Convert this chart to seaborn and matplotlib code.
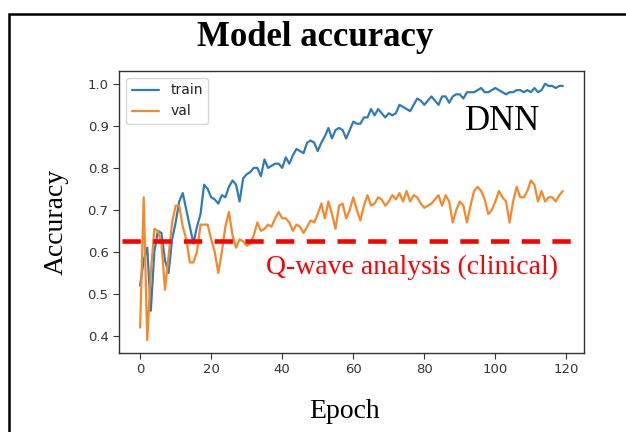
import numpy as np
import pandas as pd
import matplotlib
matplotlib.use("Agg")
import matplotlib.pyplot as plt
import seaborn as sns
from matplotlib.patches import Rectangle

epochs = list(range(120))
train_acc = [0.52, 0.58, 0.61, 0.46, 0.60, 0.65, 0.645, 0.58, 0.55, 0.63,
             0.67, 0.72, 0.74, 0.70, 0.66, 0.62, 0.66, 0.69, 0.76, 0.75,
             0.73, 0.725, 0.715, 0.735, 0.73, 0.755, 0.77, 0.76, 0.72, 0.775,
             0.785, 0.79, 0.80, 0.80, 0.78, 0.82, 0.80, 0.805, 0.81, 0.81,
             0.80, 0.825, 0.81, 0.83, 0.845, 0.84, 0.835, 0.86, 0.865, 0.86,
             0.84, 0.86, 0.875, 0.895, 0.87, 0.89, 0.895, 0.89, 0.87, 0.89,
             0.91, 0.905, 0.905, 0.92, 0.92, 0.94, 0.925, 0.94, 0.93, 0.92,
             0.93, 0.925, 0.93, 0.95, 0.945, 0.94, 0.935, 0.95, 0.965, 0.96,
             0.95, 0.96, 0.97, 0.96, 0.95, 0.97, 0.97, 0.955, 0.97, 0.975,
             0.975, 0.965, 0.98, 0.98, 0.98, 0.985, 0.99, 0.98, 0.98, 0.985,
             0.99, 0.985, 0.98, 0.975, 0.98, 0.98, 0.985, 0.985, 0.98, 0.985,
             0.98, 0.99, 0.98, 0.985, 1.0, 0.995, 0.995, 0.99, 0.995, 0.995]
val_acc = [0.42, 0.73, 0.39, 0.55, 0.655, 0.65, 0.62, 0.51, 0.59, 0.67,
           0.71, 0.71, 0.66, 0.63, 0.575, 0.575, 0.60, 0.665, 0.665, 0.665,
           0.63, 0.60, 0.55, 0.60, 0.66, 0.695, 0.64, 0.61, 0.63, 0.625,
           0.615, 0.62, 0.64, 0.67, 0.65, 0.655, 0.665, 0.66, 0.68, 0.695,
           0.68, 0.68, 0.67, 0.65, 0.665, 0.66, 0.645, 0.66, 0.675, 0.67,
           0.69, 0.715, 0.68, 0.72, 0.69, 0.655, 0.71, 0.715, 0.68, 0.70,
           0.73, 0.70, 0.675, 0.71, 0.735, 0.71, 0.715, 0.73, 0.725, 0.71,
           0.72, 0.735, 0.725, 0.74, 0.72, 0.745, 0.72, 0.735, 0.73, 0.715,
           0.705, 0.71, 0.715, 0.725, 0.735, 0.71, 0.735, 0.72, 0.67, 0.70,
           0.72, 0.71, 0.67, 0.71, 0.745, 0.755, 0.745, 0.725, 0.69, 0.70,
           0.72, 0.745, 0.73, 0.72, 0.67, 0.72, 0.755, 0.73, 0.73, 0.745,
           0.77, 0.76, 0.72, 0.745, 0.72, 0.73, 0.73, 0.72, 0.735, 0.745]
series_names = ["train", "val"]
clinical_level = 0.625
yticks = [0.4, 0.5, 0.6, 0.7, 0.8, 0.9, 1.0]
xticks = [0, 20, 40, 60, 80, 100, 120]

df = pd.DataFrame({
    "Epoch": epochs * 2,
    "Accuracy": train_acc + val_acc,
    "set": [series_names[0]] * len(epochs) + [series_names[1]] * len(epochs),
})

sns.set_style("ticks")
plt.rcParams["font.family"] = ["DejaVu Sans"]

fig = plt.figure(figsize=(6.26, 4.32), dpi=100)
ax = fig.add_axes([119/626, 1-353/432, (584-119)/626, (353-71)/432])

sns.lineplot(data=df, x="Epoch", y="Accuracy", hue="set",
             palette=["#2f7bb3", "#f5882a"], linewidth=1.6, ax=ax)

ax.axhline(clinical_level, xmin=0.006, xmax=0.983, color="red",
           linewidth=3.3, dashes=(4, 2.7))

ax.set_xticks(xticks)
ax.set_yticks(yticks)
ax.set_yticklabels([f"{t:.1f}" for t in yticks])
ax.tick_params(labelsize=9.5, colors="#333333", length=4, width=0.8)
ax.set_xlabel("")
ax.set_ylabel("")
for s in ax.spines.values():
    s.set_visible(True)
    s.set_color("#333333")
    s.set_linewidth(1.0)

leg = ax.legend(loc="upper left", fontsize=10, frameon=True, title=None)
for t in leg.get_texts():
    t.set_color("#222222")

serif = ["Liberation Serif", "DejaVu Serif"]
fig.text(315/626, 1-37/432, "Model accuracy", ha="center", va="center",
         fontsize=25, fontweight="bold", family=serif, color="black")
fig.text(56/626, 1-222/432, "Accuracy", ha="center", va="center",
         rotation=90, fontsize=20, family=serif, color="black")
fig.text(345/626, 1-412/432, "Epoch", ha="center", va="center",
         fontsize=20, family=serif, color="black")
fig.text(502/626, 1-122/432, "DNN", ha="center", va="center",
         fontsize=25, family=serif, color="black")
fig.text(412/626, 1-267/432, "Q-wave analysis (clinical)", ha="center",
         va="center", fontsize=20, color="red", family=serif)

fig.patches.append(Rectangle((9/626, -0.1), 1.2, 1.1-14/432,
                             transform=fig.transFigure, fill=False,
                             edgecolor="black", linewidth=1.8))

fig.savefig("out.png", dpi=100)
